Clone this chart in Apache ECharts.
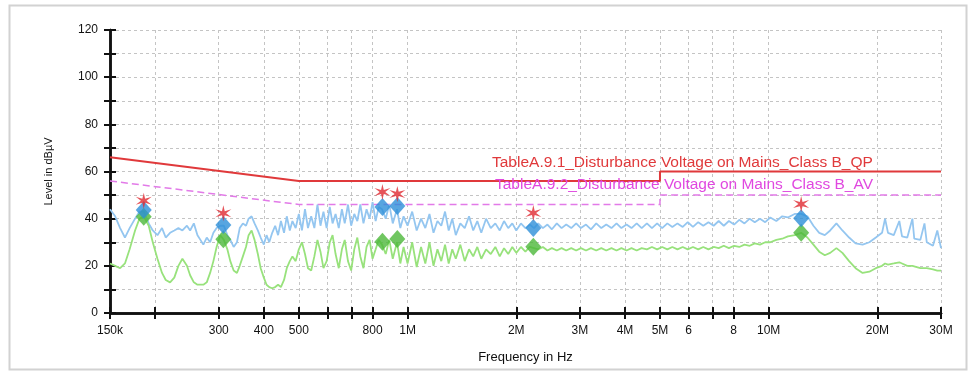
<!DOCTYPE html>
<html>
<head>
<meta charset="utf-8">
<script src="https://cdn.jsdelivr.net/npm/echarts@6/dist/echarts.min.js"></script>
<style>
html, body { margin: 0; padding: 0; background: #fff; }
#chart { width: 971px; height: 371px; }
</style>
</head>
<body>
<div id="chart"></div>
<script>
// measured traces (frequency in MHz, level in dBuV)
var traceFreqMHz = [
    0.150, 0.155, 0.160, 0.165, 0.170, 0.176, 0.181, 0.186, 0.192, 0.197,
    0.203, 0.209, 0.214, 0.220, 0.226, 0.232, 0.238, 0.245, 0.250, 0.256,
    0.262, 0.267, 0.272, 0.278, 0.284, 0.290, 0.296, 0.303, 0.310, 0.317,
    0.323, 0.330, 0.337, 0.343, 0.350, 0.357, 0.363, 0.370, 0.377, 0.385,
    0.392, 0.400, 0.407, 0.414, 0.422, 0.430, 0.438, 0.446, 0.455, 0.463,
    0.472, 0.480, 0.490, 0.500, 0.510, 0.520, 0.530, 0.541, 0.552, 0.563,
    0.574, 0.585, 0.597, 0.609, 0.620, 0.632, 0.645, 0.658, 0.670, 0.684,
    0.698, 0.712, 0.726, 0.740, 0.755, 0.770, 0.785, 0.800, 0.816, 0.832,
    0.850, 0.870, 0.890, 0.910, 0.935, 0.955, 0.975, 1.00, 1.03, 1.06,
    1.09, 1.12, 1.15, 1.18, 1.21, 1.24, 1.27, 1.30, 1.33, 1.36,
    1.40, 1.44, 1.48, 1.52, 1.56, 1.60, 1.65, 1.70, 1.75, 1.80,
    1.85, 1.90, 1.95, 2.00, 2.06, 2.12, 2.18, 2.24, 2.30, 2.37,
    2.44, 2.51, 2.59, 2.67, 2.75, 2.84, 2.93, 3.02, 3.12, 3.22,
    3.33, 3.44, 3.55, 3.67, 3.79, 3.91, 4.04, 4.17, 4.31, 4.45,
    4.60, 4.75, 4.91, 5.07, 5.24, 5.41, 5.59, 5.78, 5.97, 6.17,
    6.38, 6.59, 6.81, 7.04, 7.27, 7.51, 7.76, 8.02, 8.29, 8.57,
    8.86, 9.15, 9.46, 9.78, 10.1, 10.5, 10.9, 11.3, 11.8, 12.3,
    12.8, 13.3, 13.8, 14.3, 14.8, 15.4, 16.0, 16.7, 17.4, 18.2,
    19.0, 19.8, 20.6, 21.0, 21.4, 22.2, 23.0, 23.4, 24.2, 25.0,
    25.3, 26.3, 27.0, 27.4, 28.5, 29.3, 30.0
];
var peakLevel = [
    44, 41, 36, 32, 36, 40, 43, 43, 38, 35,
    33, 36, 32, 34, 35, 36, 35, 37, 35, 38,
    33, 31, 29, 32, 30, 34, 36, 37, 37, 33,
    31, 28, 30, 36, 38, 37, 40, 41, 38, 35,
    32, 29, 33, 30, 34, 37, 33, 39, 34, 41,
    35, 39, 36, 42, 35, 44, 36, 41, 36, 46,
    37, 43, 36, 45, 38, 42, 36, 44, 38, 46,
    37, 42, 39, 46, 38, 44, 40, 47, 39, 45,
    44, 40, 46, 38, 44, 36, 41, 37, 43, 35,
    40, 36, 42, 34, 39, 37, 43, 35, 40, 33,
    38, 36, 41, 35, 39, 34, 40, 36, 38, 35,
    39, 36, 38, 35, 38, 36, 37.5, 36, 38, 36,
    37.5, 35.5, 38, 36, 37.5, 36, 38, 36, 37.5, 35.5,
    38, 36, 37.5, 36, 38, 36, 37.5, 36, 38, 36,
    38, 36, 38, 36, 38, 36.5, 38, 36.5, 38.5, 36.5,
    38.5, 37, 38.5, 37, 39, 37, 39, 37.5, 39.5, 38,
    40, 38.5, 40, 38.5, 40.5, 39, 41, 40.5, 42, 42,
    41, 37, 34, 33, 35, 38, 35, 32, 29.5, 29,
    30, 32, 34, 40, 34, 33, 39, 32.5, 32, 40,
    31.5, 31, 38, 30, 28.5, 35, 27.5
];
var avgLevel = [
    21, 20, 19, 21, 27, 35, 40, 41, 37, 30,
    23, 17, 14, 13, 15, 20, 23, 20, 16, 13,
    12, 12, 12, 13, 17, 22, 28, 33, 31, 27,
    22, 18, 17, 20, 24, 28, 33, 35, 31, 25,
    19, 15, 12, 11, 10.5, 11, 12, 11, 14, 19,
    22, 24, 22, 27, 30, 25, 19, 18, 24, 31,
    26, 19, 22, 30, 33, 25, 19, 27, 31, 22,
    18, 27, 32, 24, 19, 28, 31, 23, 27, 31,
    29, 25, 31, 23, 30, 21, 28, 21, 30, 19.5,
    28, 21, 30, 20, 27, 22, 29, 21, 27, 23,
    29, 22, 27, 24, 28, 23, 27, 25, 28, 24,
    27.5, 25, 28, 25.5, 28, 26, 28, 27.5, 27, 28,
    26.5, 27.5, 26.5, 27.5, 26.5, 27.5, 26.5, 27.5, 26.5, 27.5,
    26.5, 27.5, 26.5, 27.5, 26.5, 27.5, 26.5, 27.5, 26.5, 27.5,
    27, 28, 27, 28, 27, 28, 27, 28, 27, 28,
    27, 28, 27, 28, 27.5, 28.5, 27.5, 28.5, 28, 29,
    28.5, 29.5, 29, 30, 30, 31, 31.5, 32.5, 33, 34,
    32, 29, 26, 24.5, 25.5, 27.5, 25.5, 22, 19, 17,
    17.5, 19, 20, 21, 20.5, 21, 21.5, 21, 20, 20,
    19.5, 19, 19, 19, 18.5, 18, 18
];

// limit lines
var limitFreqMHz = [0.15, 0.5, 5, 5, 30];
var qpLimit = [66, 56, 56, 60, 60];
var avLimit = [56, 46, 46, 50, 50];

// final measurement points
var markFreqMHz = [0.186, 0.309, 0.852, 0.937, 2.23, 12.3];
var qpFinal = [47.6, 42.3, 51.3, 50.5, 42.4, 46.2];
var peakFinal = [43.7, 37.3, 45, 45.4, 36, 40.2];
var avFinal = [40.8, 31.3, 30.2, 31.4, 28.1, 34];

// axis ticks
var tickFreqMHz = [0.15, 0.2, 0.3, 0.4, 0.5, 0.6, 0.7, 0.8, 1, 2, 3, 4, 5, 6, 7, 8, 10, 20, 30];
var labelFreqMHz = [0.15, 0.3, 0.4, 0.5, 0.8, 1, 2, 3, 4, 5, 6, 8, 10, 20, 30];
var tickLabels = ['150k', '300', '400', '500', '800', '1M', '2M', '3M', '4M', '5M', '6', '8', '10M', '20M', '30M'];

var qpName = 'TableA.9.1_Disturbance Voltage on Mains_Class B_QP';
var avName = 'TableA.9.2_Disturbance Voltage on Mains_Class B_AV';

function lg(f) { return Math.log10(f * 1e6); }
function pairs(fs, vs) {
    return fs.map(function (f, i) { return [lg(f), vs[i]]; });
}

var FONT = 'Liberation Sans, Arial, sans-serif';
var xMin = lg(0.15), xMax = lg(30);
var starPath = 'path://M10,0L11.5,7.4L18.66,5L13,10L18.66,15L11.5,12.6L10,20L8.5,12.6L1.34,15L7,10L1.34,5L8.5,7.4Z';

var chart = echarts.init(document.getElementById('chart'));

function xAxisCfg(inside, main) {
    return {
        type: 'value',
        position: 'bottom',
        min: xMin,
        max: xMax,
        name: main ? 'Frequency in Hz' : '',
        nameLocation: 'middle',
        nameGap: 38,
        nameTextStyle: { color: '#111', fontSize: 13, fontFamily: FONT },
        axisLine: { show: true, onZero: false, lineStyle: { color: '#111', width: 2.5 } },
        axisTick: {
            show: true, inside: inside, length: 6,
            customValues: tickFreqMHz.map(lg),
            lineStyle: { color: '#111', width: 2 }
        },
        axisLabel: {
            show: main,
            margin: 12,
            color: '#111',
            fontSize: 12,
            fontFamily: FONT,
            customValues: labelFreqMHz.map(lg),
            formatter: function (v) {
                for (var i = 0; i < labelFreqMHz.length; i++) {
                    if (Math.abs(lg(labelFreqMHz[i]) - v) < 1e-6) return tickLabels[i];
                }
                return '';
            }
        },
        splitLine: {
            show: main,
            lineStyle: { color: '#c4c4c4', type: [3, 3], width: 1 }
        }
    };
}

function yAxisCfg(inside, main) {
    return {
        type: 'value',
        position: 'left',
        min: 0,
        max: 120,
        interval: 10,
        name: main ? 'Level in dBµV' : '',
        nameLocation: 'middle',
        nameGap: 56,
        nameTextStyle: { color: '#111', fontSize: 11, fontFamily: FONT },
        axisLine: { show: true, lineStyle: { color: '#111', width: 2.5 } },
        axisTick: { show: true, inside: inside, length: 6, lineStyle: { color: '#111', width: 2 } },
        axisLabel: {
            show: main,
            margin: 12,
            color: '#111',
            fontSize: 12,
            fontFamily: FONT,
            formatter: function (v) { return v % 20 === 0 ? String(v) : ''; }
        },
        splitLine: {
            show: main,
            lineStyle: { color: '#c4c4c4', type: [3, 3], width: 1 }
        }
    };
}

var option = {
    animation: false,
    backgroundColor: '#fff',
    grid: { left: 110, right: 30, top: 30, bottom: 58 },
    xAxis: [xAxisCfg(false, true), xAxisCfg(true, false)],
    yAxis: [yAxisCfg(false, true), yAxisCfg(true, false)],
    graphic: [
        {
            type: 'rect', left: 7, top: 3, z: -10,
            shape: { width: 957, height: 364 },
            style: { fill: 'none', stroke: '#d2d2d2', lineWidth: 2 }
        },
        {
            type: 'text', left: 492, top: 155, z: 100,
            style: { text: qpName, fill: '#e0393b', font: '15.5px ' + FONT }
        },
        {
            type: 'text', left: 495, top: 177, z: 100,
            style: { text: avName, fill: '#e048e0', font: '15.5px ' + FONT }
        }
    ],
    series: [
        {
            name: 'QP limit', type: 'line', symbol: 'none', z: 3,
            data: pairs(limitFreqMHz, qpLimit),
            lineStyle: { color: '#e0393b', width: 2 }
        },
        {
            name: 'AV limit', type: 'line', symbol: 'none', z: 3,
            data: pairs(limitFreqMHz, avLimit),
            lineStyle: { color: '#e27ae8', width: 1.5, type: [7, 4] }
        },
        {
            name: 'Peak', type: 'line', symbol: 'none', z: 4,
            data: pairs(traceFreqMHz, peakLevel),
            lineStyle: { color: '#94c6f0', width: 1.8 }
        },
        {
            name: 'Average', type: 'line', symbol: 'none', z: 5,
            data: pairs(traceFreqMHz, avgLevel),
            lineStyle: { color: '#98e27c', width: 1.8 }
        },
        {
            name: 'AV final', type: 'scatter', symbol: 'diamond', symbolSize: [16, 18], z: 6,
            data: pairs(markFreqMHz, avFinal),
            itemStyle: { color: '#4cb83a' }
        },
        {
            name: 'Peak final', type: 'scatter', symbol: 'diamond', symbolSize: [16, 18], z: 7,
            data: pairs(markFreqMHz, peakFinal),
            itemStyle: { color: '#2d8fd8' }
        },
        {
            name: 'QP final', type: 'scatter', symbol: starPath, symbolSize: 16, z: 8,
            data: pairs(markFreqMHz, qpFinal),
            itemStyle: { color: '#e0282f' }
        }
    ]
};

chart.setOption(option);
</script>
</body>
</html>
